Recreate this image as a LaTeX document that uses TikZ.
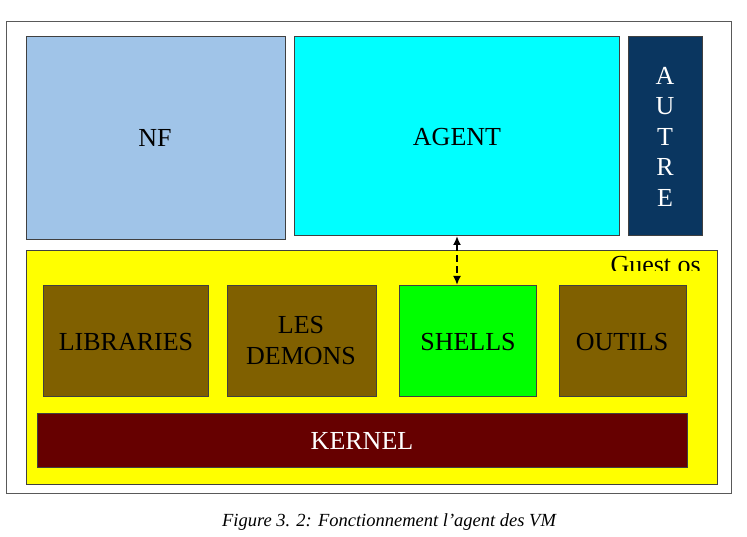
\documentclass[tikz,border=0pt]{standalone}
\usepackage{fontspec}
\setmainfont{Liberation Serif}
\usetikzlibrary{arrows.meta}
\definecolor{nfblue}{RGB}{160,196,232}
\definecolor{agentcyan}{RGB}{0,255,255}
\definecolor{autreblue}{RGB}{10,54,96}
\definecolor{osyellow}{RGB}{255,255,0}
\definecolor{shellgreen}{RGB}{0,255,0}
\definecolor{osbrown}{RGB}{128,96,0}
\definecolor{kernelred}{RGB}{102,0,0}
\definecolor{boxline}{RGB}{64,64,64}
\begin{document}
\begin{tikzpicture}[x=1pt,y=-1pt,
  bloc/.style={draw=boxline, line width=1.2pt, anchor=north west, inner sep=0pt},
  brun/.style={bloc, fill=osbrown},
  txt/.style={font=\fontsize{26}{31}\selectfont, align=center}]
\useasboundingbox (0,0) rectangle (747,537);

% cadre
\draw[gray!70!black, line width=1pt] (6,22) rectangle (731,493);

% partie haute
\node[bloc, fill=nfblue, minimum width=259pt, minimum height=203pt] (nf) at (26,36) {};
\node[txt] at (155,138) {NF};
\node[bloc, fill=agentcyan, minimum width=325pt, minimum height=199pt] (agent) at (294,36) {};
\node[txt] at (457,137) {AGENT};
\node[bloc, fill=autreblue, minimum width=74pt, minimum height=199pt] (autre) at (628,36) {};
\foreach \l [count=\i] in {A,U,T,R,E}
  \node[txt, text=white] at (665,45+30.5*\i) {\l};

% guest os
\node[bloc, fill=osyellow, minimum width=691pt, minimum height=234pt] (guest) at (26,250) {};
\begin{scope}
\clip (590,252) rectangle (716,271);
\node[txt, anchor=north east, inner sep=0pt] (guestlbl) at (701,256) {Guest os};
\end{scope}

\node[brun, minimum width=165pt, minimum height=111pt] (lib) at (43,285) {};
\node[txt] at (126,342) {LIBRARIES};
\node[brun, minimum width=149pt, minimum height=111pt] (demons) at (227,285) {};
\node[txt] at (301,341) {LES\\DEMONS};
\node[bloc, fill=shellgreen, minimum width=137pt, minimum height=111pt] (shells) at (399,285) {};
\node[txt] at (468,342) {SHELLS};
\node[brun, minimum width=127pt, minimum height=111pt] (outils) at (559,285) {};
\node[txt] at (622,342) {OUTILS};

\node[bloc, fill=kernelred, minimum width=650pt, minimum height=54pt] (kernel) at (37,413) {};
\node[txt, text=white] at (362,441) {KERNEL};

% liaison agent / shells
\coordinate (a) at (457,236);
\coordinate (s) at (457,285);
\draw[line width=2.2pt, dash pattern=on 7pt off 4pt, {Latex[length=9pt,width=8pt]}-{Latex[length=9pt,width=8pt]}] (a) -- (s);

% legende
\node (caption) at (389,522) [font=\itshape\fontsize{18.5}{22}\selectfont] {Figure 3. 2: Fonctionnement l’agent des VM};
\end{tikzpicture}
\end{document}
